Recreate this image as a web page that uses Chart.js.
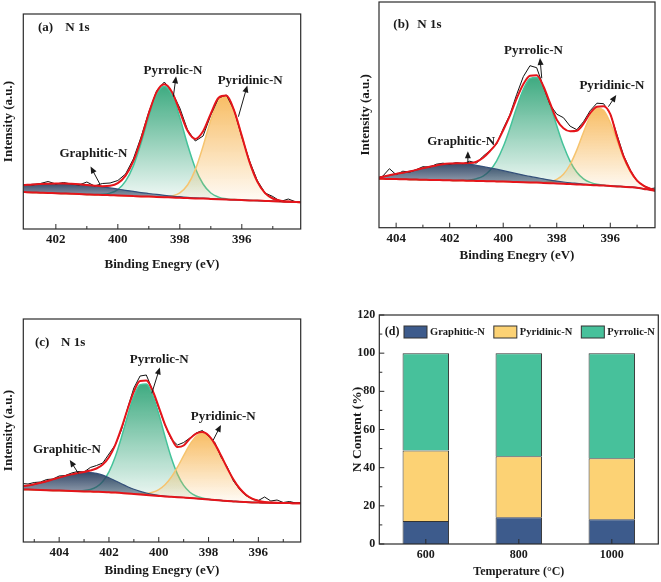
<!DOCTYPE html>
<html lang="en">
<head>
<meta charset="utf-8">
<title>N 1s spectra and N content</title>
<script src="https://cdn.jsdelivr.net/npm/chart.js@4.4.1/dist/chart.umd.min.js"></script>
<style>
  html, body { margin: 0; padding: 0; background: #fff; }
  #page { position: relative; width: 661px; height: 582px; overflow: hidden; }
  .panel { position: absolute; }
</style>
</head>
<body>
<div id="page">
  <div class="panel" style="left:0;top:0"><canvas id="chartA" width="320" height="290"></canvas></div>
  <div class="panel" style="left:330px;top:0"><canvas id="chartB" width="331" height="290"></canvas></div>
  <div class="panel" style="left:0;top:290px"><canvas id="chartC" width="320" height="292"></canvas></div>
  <div class="panel" style="left:330px;top:290px"><canvas id="chartD" width="331" height="292"></canvas></div>
</div>
<script>
// ---- panel (a) : binding energy (eV) and intensities (a.u.)
const energyA = [403.25, 403, 402.75, 402.5, 402.25, 402, 401.75, 401.5, 401.25, 401, 400.75, 400.5, 400.25, 400, 399.75, 399.5, 399.25, 399, 398.75, 398.5, 398.25, 398, 397.75, 397.5, 397.25, 397, 396.75, 396.5, 396.25, 396, 395.75, 395.5, 395.25, 395, 394.75, 394.5, 394.25, 394];
const rawA = [43.4, 44.5, 44.0, 45.5, 47.5, 45.0, 46.5, 45.0, 44.0, 47.0, 43.0, 45.5, 46.0, 48.5, 55.0, 70.0, 92.0, 117.0, 138.0, 147.0, 137.0, 121.0, 99.0, 88.0, 93.0, 114.0, 131.0, 134.0, 119.0, 92.0, 68.0, 48.5, 36.0, 32.5, 27.5, 30.0, 27.0, 26.6];
const envelopeA = [43.4, 44.0, 44.6, 45.0, 45.3, 45.5, 45.5, 45.2, 44.7, 44.0, 43.3, 42.8, 43.2, 45.8, 53.3, 67.8, 89.8, 115.7, 136.9, 144.7, 136.8, 117.5, 98.2, 90.1, 97.7, 115.3, 131.2, 133.4, 118.6, 93.1, 66.9, 47.4, 35.9, 30.5, 28.3, 27.4, 26.9, 26.6];
const baselineA = [37.2, 36.9, 36.6, 36.3, 36.0, 35.8, 35.5, 35.2, 34.9, 34.6, 34.3, 34.1, 33.8, 33.5, 33.2, 32.9, 32.6, 32.4, 32.1, 31.8, 31.5, 31.2, 30.9, 30.6, 30.4, 30.1, 29.8, 29.5, 29.2, 28.9, 28.6, 28.4, 28.1, 27.8, 27.5, 27.2, 26.9, 26.6];
const graphiticA = [43.4, 44.0, 44.6, 45.0, 45.3, 45.5, 45.5, 45.2, 44.7, 44.0, 43.1, 42.2, 41.1, 39.9, 38.7, 37.6, 36.4, 35.5, 34.6, 33.7, 32.9, 32.3, 31.7, 31.1, 30.8, 30.4, 30.0, 29.6, 29.2, 28.9, 28.6, 28.4, 28.1, 27.8, 27.5, 27.2, 26.9, 26.6];
const pyrrolicA = [37.2, 36.9, 36.6, 36.3, 36.0, 35.8, 35.5, 35.2, 34.9, 34.6, 34.5, 34.7, 35.9, 39.4, 47.8, 63.1, 86.0, 112.6, 134.4, 142.8, 133.8, 111.4, 84.3, 60.8, 45.0, 36.0, 31.9, 30.1, 29.4, 28.9, 28.6, 28.4, 28.1, 27.8, 27.5, 27.2, 26.9, 26.6];
const pyridinicA = [37.2, 36.9, 36.6, 36.3, 36.0, 35.8, 35.5, 35.2, 34.9, 34.6, 34.3, 34.1, 33.8, 33.5, 33.2, 32.9, 32.6, 32.4, 32.1, 31.8, 33.1, 36.2, 44.0, 59.4, 82.7, 109.1, 128.9, 132.7, 118.5, 93.1, 66.9, 47.4, 35.9, 30.5, 28.3, 27.4, 26.9, 26.6];
const ticksA = [402, 400, 398, 396];
const minorA = [401, 399, 397, 395];

// ---- panel (b)
const energyB = [404.75, 404.5, 404.25, 404, 403.75, 403.5, 403.25, 403, 402.75, 402.5, 402.25, 402, 401.75, 401.5, 401.25, 401, 400.75, 400.5, 400.25, 400, 399.75, 399.5, 399.25, 399, 398.75, 398.5, 398.25, 398, 397.75, 397.5, 397.25, 397, 396.75, 396.5, 396.25, 396, 395.75, 395.5, 395.25, 395, 394.75, 394.5, 394.25];
const rawB = [49.0, 51.5, 59.0, 53.0, 56.5, 55.5, 58.0, 61.0, 60.5, 63.5, 64.5, 63.5, 65.0, 64.0, 66.5, 64.5, 71.5, 77.0, 83.5, 99.0, 113.0, 133.0, 151.0, 162.0, 160.0, 141.0, 123.0, 113.5, 110.0, 101.5, 98.0, 106.0, 117.0, 124.5, 124.0, 114.0, 93.0, 72.0, 57.5, 46.5, 42.0, 39.0, 40.0];
const envelopeB = [49.6, 51.0, 52.4, 53.8, 54.9, 56.3, 57.8, 59.5, 61.0, 62.3, 63.5, 64.1, 64.4, 64.5, 64.6, 66.0, 70.0, 76.5, 84.5, 97.5, 112.0, 129.0, 143.5, 152.0, 152.5, 141.5, 124.5, 108.0, 99.5, 96.5, 97.0, 104.0, 114.5, 121.0, 121.5, 113.5, 91.0, 71.0, 57.0, 47.0, 41.9, 38.9, 36.9];
const baselineB = [49.0, 48.9, 48.7, 48.6, 48.4, 48.3, 48.1, 48.0, 47.8, 47.7, 47.5, 47.4, 47.2, 47.1, 46.9, 46.8, 46.6, 46.5, 46.3, 46.1, 45.9, 45.7, 45.5, 45.3, 45.1, 44.8, 44.5, 44.2, 43.9, 43.6, 43.3, 43.0, 42.7, 42.4, 42.1, 41.7, 41.3, 40.9, 40.5, 40.0, 38.8, 37.8, 36.5];
const graphiticB = [49.6, 51.0, 52.4, 53.8, 54.9, 56.3, 57.8, 59.5, 61.0, 62.3, 63.5, 64.1, 64.4, 64.2, 63.3, 62.4, 61.2, 59.9, 58.5, 57.0, 55.5, 54.0, 52.6, 51.3, 50.0, 48.8, 47.6, 46.6, 45.7, 44.9, 44.3, 43.7, 43.2, 42.8, 42.4, 41.9, 41.5, 41.0, 40.6, 40.1, 39.0, 37.9, 36.6];
const pyrrolicB = [49.0, 48.9, 48.7, 48.6, 48.4, 48.3, 48.1, 48.0, 47.8, 47.7, 47.5, 47.4, 47.2, 47.4, 47.7, 49.0, 51.6, 57.2, 66.6, 80.9, 99.4, 119.9, 138.1, 149.3, 150.2, 140.4, 122.7, 101.9, 82.1, 66.4, 55.5, 48.9, 45.3, 43.4, 42.5, 41.7, 41.3, 40.9, 40.5, 40.0, 38.8, 37.8, 36.5];
const pyridinicB = [49.0, 48.9, 48.7, 48.6, 48.4, 48.3, 48.1, 48.0, 47.8, 47.7, 47.5, 47.4, 47.2, 47.1, 46.9, 46.8, 46.6, 46.5, 46.3, 46.1, 45.9, 45.7, 45.5, 45.3, 45.1, 45.3, 46.0, 48.3, 53.5, 63.2, 77.8, 95.4, 111.3, 119.8, 117.5, 105.0, 87.2, 69.6, 55.9, 47.2, 41.7, 38.8, 36.8];
const ticksB = [404, 402, 400, 398, 396];
const minorB = [403, 401, 399, 397, 395];

// ---- panel (c)
const energyC = [405.5, 405.25, 405, 404.75, 404.5, 404.25, 404, 403.75, 403.5, 403.25, 403, 402.75, 402.5, 402.25, 402, 401.75, 401.5, 401.25, 401, 400.75, 400.5, 400.25, 400, 399.75, 399.5, 399.25, 399, 398.75, 398.5, 398.25, 398, 397.75, 397.5, 397.25, 397, 396.75, 396.5, 396.25, 396, 395.75, 395.5, 395.25, 395, 394.75, 394.5, 394.25];
const rawC = [58.5, 58.0, 59.5, 60.0, 62.5, 63.0, 66.0, 66.5, 69.0, 70.5, 70.0, 74.5, 76.5, 79.0, 88.0, 97.0, 112.0, 134.0, 154.0, 166.0, 167.0, 152.0, 134.0, 117.0, 103.0, 97.0, 99.5, 104.0, 109.0, 111.5, 106.0, 99.5, 85.0, 75.0, 61.0, 52.5, 46.5, 43.0, 41.5, 45.0, 41.0, 42.0, 39.5, 40.5, 39.0, 39.0];
const envelopeC = [55.6, 56.5, 57.7, 59.2, 60.8, 62.6, 64.4, 66.1, 67.6, 69.0, 70.1, 71.5, 73.5, 77.5, 84.8, 96.9, 113.8, 133.0, 150.4, 161.0, 161.4, 151.5, 135.0, 117.4, 104.2, 95.0, 96.5, 103.4, 108.4, 110.0, 106.6, 98.1, 86.5, 73.9, 62.5, 53.5, 47.3, 43.4, 41.2, 40.0, 39.5, 39.2, 39.0, 38.9, 38.8, 38.7];
const baselineC = [52.6, 52.4, 52.2, 52.0, 51.8, 51.6, 51.4, 51.2, 51.0, 50.8, 50.6, 50.4, 50.2, 50.0, 49.7, 49.4, 49.0, 48.6, 48.1, 47.6, 47.1, 46.6, 46.1, 45.6, 45.2, 44.8, 44.4, 44.0, 43.5, 43.0, 42.5, 42.0, 41.5, 41.0, 40.6, 40.2, 39.9, 39.6, 39.4, 39.3, 39.2, 39.1, 39.0, 38.9, 38.8, 38.7];
const graphiticC = [55.6, 56.5, 57.7, 59.2, 60.8, 62.6, 64.4, 66.1, 67.6, 68.7, 69.3, 69.4, 68.6, 66.9, 64.3, 61.3, 58.2, 55.3, 52.7, 50.6, 49.0, 47.7, 46.7, 45.9, 45.35, 44.9, 44.5, 44.1, 43.6, 43.1, 42.6, 42.1, 41.6, 41.1, 40.7, 40.3, 40.0, 39.7, 39.5, 39.3, 39.2, 39.1, 39.0, 38.9, 38.8, 38.7];
const pyrrolicC = [52.6, 52.4, 52.2, 52.0, 51.8, 51.6, 51.4, 51.2, 51.0, 51.1, 51.4, 52.5, 55.1, 60.6, 70.2, 85.0, 104.6, 126.3, 145.6, 157.4, 158.1, 147.3, 128.1, 105.5, 84.5, 67.9, 56.6, 49.8, 46.0, 43.9, 42.8, 42.0, 41.5, 41.0, 40.6, 40.2, 39.9, 39.6, 39.4, 39.3, 39.2, 39.1, 39.0, 38.9, 38.8, 38.7];
const pyridinicC = [52.6, 52.4, 52.2, 52.0, 51.8, 51.6, 51.4, 51.2, 51.0, 50.8, 50.6, 50.4, 50.2, 50.0, 49.7, 49.4, 49.0, 48.6, 48.3, 48.2, 48.5, 49.7, 52.4, 57.2, 64.7, 74.8, 86.4, 97.5, 105.8, 109.0, 106.2, 98.0, 86.4, 73.8, 62.4, 53.4, 47.2, 43.3, 41.1, 40.0, 39.5, 39.2, 39.0, 38.9, 38.8, 38.7];
const ticksC = [404, 402, 400, 398, 396];
const minorC = [405, 403, 401, 399, 397, 395];

// ---- panel (d) : N content (%)
const temperatures = ['600', '800', '1000'];
const graphiticPct = [12, 14, 13];
const pyridinicPct = [37, 32, 32];
const pyrrolicPct = [51, 54, 55];
const pctTicks = [0, 20, 40, 60, 80, 100, 120];
const pctMinor = [10, 30, 50, 70, 90, 110];

const serif = "'Liberation Serif', 'Times New Roman', Times, serif";
const ink = '#1a1a1a';
const fitRed = '#e5151b';

// box around the plot area
const framePlugin = {
  id: 'frame',
  afterDatasetsDraw(chart) {
    const { ctx, chartArea: a } = chart;
    ctx.save();
    ctx.strokeStyle = '#2b2b2b';
    ctx.lineWidth = 1.2;
    ctx.strokeRect(a.left, a.top, a.right - a.left, a.bottom - a.top);
    ctx.restore();
  }
};

// tick marks drawn inwards, like the original plots
const tickPlugin = {
  id: 'inTicks',
  afterDatasetsDraw(chart, args, opts) {
    const { ctx, chartArea: a, scales } = chart;
    const x = scales.x, y = scales.y;
    ctx.save();
    ctx.strokeStyle = '#2b2b2b';
    ctx.lineWidth = 1;
    ctx.beginPath();
    x.ticks.forEach((t, i) => {
      const px = x.getPixelForTick(i);
      ctx.moveTo(px, a.bottom);
      ctx.lineTo(px, a.bottom - 5);
    });
    (opts.xMinor || []).forEach(v => {
      const px = x.getPixelForValue(v);
      ctx.moveTo(px, a.bottom);
      ctx.lineTo(px, a.bottom - 3);
    });
    if (opts.yTicks) {
      y.ticks.forEach((t, i) => {
        const py = y.getPixelForTick(i);
        ctx.moveTo(a.left, py);
        ctx.lineTo(a.left + 5, py);
      });
      (opts.yMinor || []).forEach(v => {
        const py = y.getPixelForValue(v);
        ctx.moveTo(a.left, py);
        ctx.lineTo(a.left + 3, py);
      });
    }
    ctx.stroke();
    ctx.restore();
  }
};

function arrow(ctx, x0, y0, x1, y1) {
  const ang = Math.atan2(y1 - y0, x1 - x0);
  const c = Math.cos(ang), s = Math.sin(ang);
  ctx.beginPath();
  ctx.moveTo(x0, y0);
  ctx.lineTo(x1, y1);
  ctx.stroke();
  ctx.beginPath();
  ctx.moveTo(x1 + 2 * c, y1 + 2 * s);
  ctx.lineTo(x1 - 5 * c + 3 * s, y1 - 5 * s - 3 * c);
  ctx.lineTo(x1 - 5 * c - 3 * s, y1 - 5 * s + 3 * c);
  ctx.closePath();
  ctx.fill();
}

// panel tag and peak names with arrows
const notePlugin = {
  id: 'notes',
  afterDatasetsDraw(chart, args, opts) {
    const { ctx, chartArea: a, scales: { x, y } } = chart;
    ctx.save();
    ctx.fillStyle = ink;
    ctx.strokeStyle = ink;
    ctx.lineWidth = 1;
    ctx.font = `bold 13px ${serif}`;
    ctx.textBaseline = 'middle';
    ctx.textAlign = 'left';
    ctx.fillText(opts.tag, a.left + opts.tagAt[0], a.top + opts.tagAt[2]);
    ctx.fillText('N 1s', a.left + opts.tagAt[1], a.top + opts.tagAt[2]);
    ctx.textAlign = 'center';
    opts.labels.forEach(l => {
      ctx.fillText(l.text, x.getPixelForValue(l.at[0]), y.getPixelForValue(l.at[1]));
      arrow(ctx, x.getPixelForValue(l.from[0]), y.getPixelForValue(l.from[1]),
        x.getPixelForValue(l.to[0]), y.getPixelForValue(l.to[1]));
    });
    ctx.restore();
  }
};

// legend sitting inside the bar plot
const legendPlugin = {
  id: 'innerLegend',
  afterDatasetsDraw(chart) {
    const { ctx, chartArea: a } = chart;
    ctx.save();
    ctx.textBaseline = 'middle';
    ctx.textAlign = 'left';
    const cy = a.top + 17;
    ctx.fillStyle = ink;
    ctx.font = `bold 12px ${serif}`;
    ctx.fillText('(d)', a.left + 5.5, cy);
    ctx.font = `bold 10.5px ${serif}`;
    let px = a.left + 24.7;
    chart.data.datasets.forEach(ds => {
      ctx.fillStyle = ds.backgroundColor;
      ctx.fillRect(px, cy - 6, 23, 12);
      ctx.strokeStyle = '#333';
      ctx.strokeRect(px, cy - 6, 23, 12);
      ctx.fillStyle = ink;
      ctx.fillText(ds.label, px + 26, cy);
      px += 26 + ctx.measureText(ds.label).width + 9;
    });
    ctx.restore();
  }
};

function fade(rgb, a0, a1, topVal, botVal) {
  return (c) => {
    const chart = c.chart;
    if (!chart.chartArea) return `rgba(${rgb},${a0})`;
    const y = chart.scales.y;
    const g = chart.ctx.createLinearGradient(0, y.getPixelForValue(topVal), 0, y.getPixelForValue(botVal));
    g.addColorStop(0, `rgba(${rgb},${a0})`);
    g.addColorStop(1, `rgba(${rgb},${a1})`);
    return g;
  };
}

const noGrid = { display: false, drawTicks: false };

function spectrum(id, p) {
  const pts = (ys) => p.energy.map((e, i) => ({ x: e, y: ys[i] }));
  const bottom = Math.min(...p.baseline);
  const font13 = { family: serif, size: 13, weight: 'bold' };
  const smooth = { cubicInterpolationMode: 'monotone', pointRadius: 0 };
  new Chart(document.getElementById(id), {
    type: 'line',
    data: {
      datasets: [
        { label: 'Fitted', data: pts(p.envelope), borderColor: fitRed, borderWidth: 2, ...smooth },
        { label: 'Raw', data: pts(p.raw), borderColor: '#111', borderWidth: 1, tension: 0, pointRadius: 0 },
        { label: 'Background', data: pts(p.baseline), borderColor: fitRed, borderWidth: 2, ...smooth },
        { label: 'Graphitic-N', data: pts(p.graphitic), borderColor: '#34507a', borderWidth: 1.2, fill: 2,
          backgroundColor: fade('44,66,98', 0.95, 0.3, Math.max(...p.graphitic), bottom), ...smooth },
        { label: 'Pyridinic-N', data: pts(p.pyridinic), borderColor: '#f6c46f', borderWidth: 1.5, fill: 2,
          backgroundColor: fade('247,182,84', 0.9, 0.04, Math.max(...p.pyridinic), bottom), ...smooth },
        { label: 'Pyrrolic-N', data: pts(p.pyrrolic), borderColor: '#45c39a', borderWidth: 1.5, fill: 2,
          backgroundColor: fade('52,166,122', 0.95, 0.04, Math.max(...p.pyrrolic), bottom), ...smooth }
      ]
    },
    options: {
      responsive: false,
      animation: false,
      events: [],
      layout: { padding: p.pad },
      plugins: {
        legend: { display: false },
        tooltip: { enabled: false },
        notes: p.notes,
        inTicks: { xMinor: p.minor }
      },
      scales: {
        x: {
          type: 'linear', reverse: true, min: p.range[0], max: p.range[1],
          afterBuildTicks: (s) => { s.ticks = p.ticks.map(v => ({ value: v })); },
          afterFit: (s) => { s.height = p.xAxisHeight; },
          grid: noGrid, border: { display: false },
          ticks: { font: font13, color: ink, padding: 3, maxRotation: 0, autoSkip: false },
          title: { display: true, text: 'Binding Enegry (eV)', font: font13, color: ink, padding: { top: 0, bottom: 4 } }
        },
        y: {
          min: 0, max: p.yMax,
          afterFit: (s) => { s.width = p.yAxisWidth; },
          grid: noGrid, border: { display: false },
          ticks: { display: false },
          title: { display: true, text: 'Intensity (a.u.)', font: font13, color: ink, padding: { top: 1, bottom: 0 } }
        }
      }
    },
    plugins: [framePlugin, tickPlugin, notePlugin]
  });
}

spectrum('chartA', {
  energy: energyA, raw: rawA, envelope: envelopeA, baseline: baselineA,
  graphitic: graphiticA, pyridinic: pyridinicA, pyrrolic: pyrrolicA,
  range: [394.1, 403.05], ticks: ticksA, minor: minorA, yMax: 215,
  pad: { left: 0, right: 19.3, top: 14, bottom: 14 }, yAxisWidth: 23.3, xAxisHeight: 47,
  notes: {
    tag: '(a)', tagAt: [14.7, 42, 14],
    labels: [
      { text: 'Pyrrolic-N', at: [398.22, 158.3], from: [398.21, 132.3], to: [398.13, 150.7] },
      { text: 'Pyridinic-N', at: [395.73, 148], from: [396.11, 112.3], to: [395.84, 141.7] },
      { text: 'Graphitic-N', at: [400.79, 75], from: [400.58, 45], to: [400.85, 60.7] }
    ]
  }
});

spectrum('chartB', {
  energy: energyB, raw: rawB, envelope: envelopeB, baseline: baselineB,
  graphitic: graphiticB, pyridinic: pyridinicB, pyrrolic: pyrrolicB,
  range: [394.33, 404.64], ticks: ticksB, minor: minorB, yMax: 225.7,
  pad: { left: 27, right: 6, top: 2, bottom: 23 }, yAxisWidth: 22, xAxisHeight: 39.3,
  notes: {
    tag: '(b)', tagAt: [14.3, 38.3, 23],
    labels: [
      { text: 'Pyrrolic-N', at: [398.87, 176.7], from: [398.56, 149.4], to: [398.62, 167.7] },
      { text: 'Pyridinic-N', at: [395.94, 141.7], from: [396.07, 121], to: [395.82, 131] },
      { text: 'Graphitic-N', at: [401.57, 86], from: [401.32, 64.4], to: [401.32, 74.4] }
    ]
  }
});

spectrum('chartC', {
  energy: energyC, raw: rawC, envelope: envelopeC, baseline: baselineC,
  graphitic: graphiticC, pyridinic: pyridinicC, pyrrolic: pyrrolicC,
  range: [394.3, 405.44], ticks: ticksC, minor: minorC, yMax: 223,
  pad: { left: 0, right: 19.3, top: 29, bottom: 0 }, yAxisWidth: 23.3, xAxisHeight: 40,
  notes: {
    tag: '(c)', tagAt: [11.7, 37.7, 23.7],
    labels: [
      { text: 'Pyrrolic-N', at: [399.98, 182.7], from: [400.28, 148.7], to: [399.98, 172.7] },
      { text: 'Pyridinic-N', at: [397.41, 125.3], from: [397.81, 102], to: [397.54, 115.3] },
      { text: 'Graphitic-N', at: [403.69, 92], from: [403.23, 68.7], to: [403.53, 80.3] }
    ]
  }
});

// ---- panel (d) stacked bars
const font12 = { family: serif, size: 12, weight: 'bold' };
new Chart(document.getElementById('chartD'), {
  type: 'bar',
  data: {
    labels: temperatures,
    datasets: [
      { label: 'Graphitic-N', data: graphiticPct, backgroundColor: '#3d5b8c' },
      { label: 'Pyridinic-N', data: pyridinicPct, backgroundColor: '#fcd274' },
      { label: 'Pyrrolic-N', data: pyrrolicPct, backgroundColor: '#47c19b' }
    ]
  },
  options: {
    responsive: false,
    animation: false,
    events: [],
    layout: { padding: { left: 19, right: 2.7, top: 25, bottom: 0 } },
    datasets: { bar: { borderColor: '#333', borderWidth: 1, barPercentage: 0.5, categoryPercentage: 1 } },
    plugins: {
      legend: { display: false },
      tooltip: { enabled: false },
      inTicks: { yTicks: true, yMinor: pctMinor }
    },
    scales: {
      x: {
        stacked: true,
        afterFit: (s) => { s.height = 38; },
        grid: noGrid, border: { display: false },
        ticks: { font: font12, color: ink, padding: 4 },
        title: { display: true, text: 'Temperature (°C)', font: font12, color: ink, padding: { top: 0, bottom: 2.5 } }
      },
      y: {
        stacked: true, min: 0, max: 120,
        afterBuildTicks: (s) => { s.ticks = pctTicks.map(v => ({ value: v })); },
        afterFit: (s) => { s.width = 30.3; },
        grid: noGrid, border: { display: false },
        ticks: { font: font12, color: ink, padding: 4 },
        title: { display: true, text: 'N Content (%)', font: { family: serif, size: 13.5, weight: 'bold' }, color: ink, padding: { top: 0, bottom: 0 } }
      }
    }
  },
  plugins: [framePlugin, tickPlugin, legendPlugin]
});
</script>
</body>
</html>
